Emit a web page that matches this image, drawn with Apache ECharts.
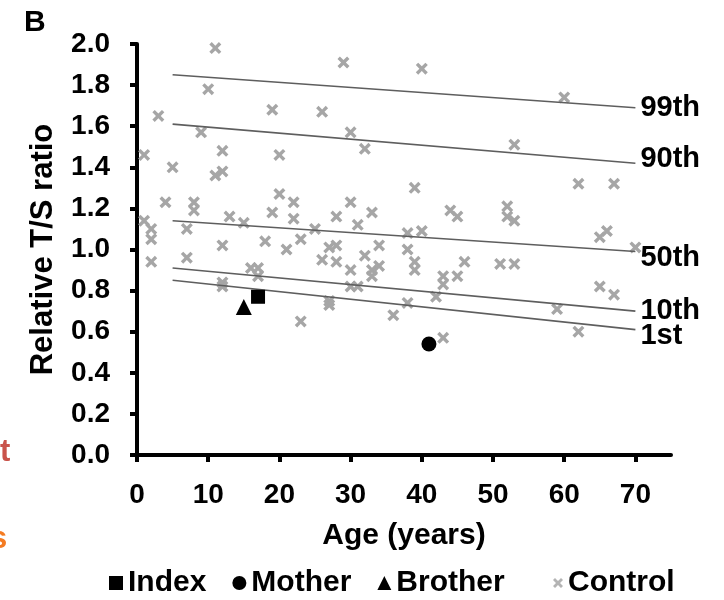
<!DOCTYPE html>
<html>
<head>
  <meta charset="utf-8">
  <title>T/S ratio</title>
  <script src="https://cdn.jsdelivr.net/npm/echarts@6/dist/echarts.min.js"></script>
  <style>
    html, body { margin: 0; padding: 0; background: #fff; }
    #main { width: 724px; height: 600px; }
  </style>
</head>
<body>
<div id="main"></div>
<script>
  // controls (age, ratio)
  var controlAge = [11, 29, 40, 60, 10, 3, 19, 26, 9, 30, 32, 53, 1, 12, 20, 5, 12, 11, 62, 67,
    39, 4, 8, 8, 20, 22, 22, 19, 13, 15, 1, 2, 2, 7, 12, 18, 21, 23, 2, 7,
    16, 17, 17, 12, 12, 23, 30, 28, 33, 31, 25, 44, 45, 40, 38, 38, 27, 28, 34, 26,
    28, 32, 30, 33, 34, 33, 39, 39, 46, 45, 43, 43, 30, 31, 42, 38, 27, 27, 36, 52,
    52, 53, 65, 66, 70, 51, 53, 65, 67, 59, 62, 43];
  var controlRatio = [1.98, 1.91, 1.88, 1.74, 1.78, 1.65, 1.68, 1.67, 1.57, 1.57, 1.49, 1.51, 1.46, 1.48, 1.46, 1.40, 1.38, 1.36, 1.32, 1.32,
    1.30, 1.23, 1.23, 1.19, 1.27, 1.23, 1.15, 1.18, 1.16, 1.13, 1.14, 1.10, 1.05, 1.10, 1.02, 1.04, 1.00, 1.05, 0.94, 0.96,
    0.91, 0.91, 0.87, 0.84, 0.82, 0.65, 1.23, 1.16, 1.18, 1.12, 1.10, 1.19, 1.16, 1.09, 1.08, 1.00, 1.01, 1.02, 1.02, 0.95,
    0.94, 0.97, 0.90, 0.90, 0.92, 0.87, 0.94, 0.90, 0.94, 0.87, 0.87, 0.83, 0.82, 0.82, 0.77, 0.74, 0.75, 0.73, 0.68, 1.21,
    1.16, 1.14, 1.06, 1.09, 1.01, 0.93, 0.93, 0.82, 0.78, 0.71, 0.60, 0.57];

  var indexPt = [17, 0.77];
  var motherPt = [41, 0.54];
  var brotherPt = [15, 0.72];

  // percentile lines, from age 5 to 70
  var pctNames = ['99th', '90th', '50th', '10th', '1st'];
  var pctAge = [5, 70];
  var pctStart = [1.85, 1.61, 1.14, 0.91, 0.85];
  var pctEnd = [1.69, 1.42, 0.99, 0.70, 0.61];
  var pctLabelShift = [0, -4, 6, 0, 6];

  var xTicks = [0, 10, 20, 30, 40, 50, 60, 70];

  var FONT = 'Liberation Sans, Arial, sans-serif';
  var crossPath = 'path://M0,2 L2,0 L5,3 L8,0 L10,2 L7,5 L10,8 L8,10 L5,7 L2,10 L0,8 L3,5 Z';

  var myChart = echarts.init(document.getElementById('main'));

  var series = [];
  pctNames.forEach(function (nm, i) {
    series.push({
      name: nm,
      type: 'line',
      data: [[pctAge[0], pctStart[i]], [pctAge[1], pctEnd[i]]],
      symbol: 'none',
      silent: true,
      lineStyle: { color: '#5e5e5e', width: 1.6 },
      endLabel: {
        show: true,
        formatter: nm,
        color: '#000',
        fontFamily: FONT,
        fontWeight: 'bold',
        fontSize: 29,
        distance: 5,
        offset: [0, pctLabelShift[i]]
      },
      z: 3
    });
  });

  series.push({
    name: 'Control',
    type: 'scatter',
    symbol: crossPath,
    symbolSize: 12,
    itemStyle: { color: '#a6a6a6', opacity: 1 },
    data: controlAge.map(function (a, i) { return [a, controlRatio[i]]; }),
    z: 2
  });
  series.push({
    name: 'Index', type: 'scatter', symbol: 'rect', symbolSize: 14,
    itemStyle: { color: '#000', opacity: 1 }, data: [indexPt], z: 5
  });
  series.push({
    name: 'Mother', type: 'scatter', symbol: 'circle', symbolSize: 15,
    itemStyle: { color: '#000', opacity: 1 }, data: [motherPt], z: 5
  });
  series.push({
    name: 'Brother', type: 'scatter', symbol: 'triangle', symbolSize: 16,
    itemStyle: { color: '#000', opacity: 1 }, data: [brotherPt], z: 5
  });

  var legendText = { fontFamily: FONT, fontWeight: 'bold', fontSize: 30, color: '#000' };

  var option = {
    animation: false,
    backgroundColor: '#fff',
    textStyle: { fontFamily: FONT },
    grid: { left: 137, top: 44, right: 53, bottom: 145, containLabel: false },
    legend: [
      {
        left: 104,
        top: 563,
        itemGap: 26,
        itemWidth: 14,
        itemHeight: 14,
        textStyle: legendText,
        data: [
          { name: 'Index', icon: 'rect' },
          { name: 'Mother', icon: 'circle' },
          { name: 'Brother', icon: 'triangle' }
        ]
      },
      {
        left: 548,
        top: 563,
        itemWidth: 10,
        itemHeight: 10,
        textStyle: legendText,
        data: [{ name: 'Control', icon: crossPath, itemStyle: { color: '#b4b4b4' } }]
      }
    ],
    xAxis: {
      type: 'value',
      min: 0,
      max: 75,
      interval: 10,
      name: 'Age (years)',
      nameLocation: 'middle',
      nameGap: 66,
      nameTextStyle: { fontFamily: FONT, fontWeight: 'bold', fontSize: 30, color: '#000' },
      splitLine: { show: false },
      axisLine: { lineStyle: { color: '#000', width: 4 } },
      axisTick: { length: 7, lineStyle: { color: '#000', width: 4 }, customValues: xTicks },
      axisLabel: {
        customValues: xTicks,
        margin: 26,
        fontFamily: FONT, fontWeight: 'bold', fontSize: 28, color: '#000'
      }
    },
    yAxis: {
      type: 'value',
      min: 0,
      max: 2,
      interval: 0.2,
      name: 'Relative T/S ratio',
      nameLocation: 'middle',
      nameGap: 78,
      nameTextStyle: { fontFamily: FONT, fontWeight: 'bold', fontSize: 31, color: '#000' },
      splitLine: { show: false },
      axisLine: { show: true, lineStyle: { color: '#000', width: 4 } },
      axisTick: { show: true, length: 7, lineStyle: { color: '#000', width: 4 } },
      axisLabel: {
        margin: 27,
        formatter: function (v) { return v.toFixed(1); },
        fontFamily: FONT, fontWeight: 'bold', fontSize: 28, color: '#000'
      }
    },
    graphic: [
      { type: 'text', left: 24, top: 8, style: { text: 'B', font: 'bold 30px ' + FONT, fill: '#000' } },
      { type: 'text', left: 0, top: 437, style: { text: 't', font: 'bold 31px ' + FONT, fill: '#c9534b' } },
      { type: 'text', left: -10, top: 524, style: { text: 's', font: 'bold 31px ' + FONT, fill: '#f47b22' } }
    ],
    series: series
  };

  option && myChart.setOption(option);
</script>
</body>
</html>
